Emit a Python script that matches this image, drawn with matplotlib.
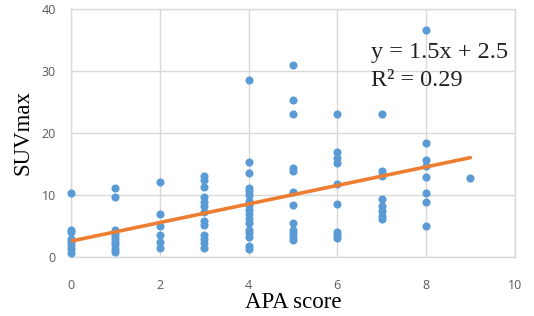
import matplotlib
matplotlib.use("Agg")
import matplotlib.pyplot as plt
import numpy as np

# APA score groups and SUVmax values
apa_scores = [0, 1, 2, 3, 4, 5, 6, 7, 8, 9]
suv_0 = [10.3, 4.3, 3.9, 2.8, 2.3, 1.8, 1.2, 0.6]
suv_1 = [11.1, 9.6, 4.3, 3.8, 3.3, 2.8, 2.3, 1.8, 1.3, 0.8]
suv_2 = [12.0, 6.9, 4.9, 3.5, 2.4, 1.4]
suv_3 = [13.0, 12.4, 11.3, 9.6, 8.8, 8.1, 7.2, 5.7, 5.1, 3.5, 2.8, 2.2, 1.4]
suv_4 = [28.6, 15.3, 13.5, 11.1, 10.6, 10.0, 9.0, 8.3, 7.5, 6.9, 6.0, 5.4, 4.3, 3.8, 3.2, 1.7, 1.3]
suv_5 = [31.0, 25.3, 23.0, 14.3, 13.9, 10.5, 8.4, 5.5, 4.3, 3.8, 3.2, 2.7]
suv_6 = [23.0, 16.9, 16.0, 15.1, 11.8, 8.5, 4.0, 3.5, 3.0]
suv_7 = [23.0, 13.8, 13.0, 9.3, 8.1, 7.3, 6.6, 6.0]
suv_8 = [36.7, 18.3, 15.6, 14.7, 12.9, 10.3, 8.8, 5.0]
suv_9 = [12.7]
suv_groups = [suv_0, suv_1, suv_2, suv_3, suv_4, suv_5, suv_6, suv_7, suv_8, suv_9]

slope = 1.5
intercept = 2.5
r_squared = 0.29

x_ticks = [0, 2, 4, 6, 8, 10]
y_ticks = [0, 10, 20, 30, 40]

xs = np.concatenate([[a] * len(g) for a, g in zip(apa_scores, suv_groups)])
ys = np.concatenate(suv_groups)

fig = plt.figure(figsize=(5.34, 3.16), dpi=100)
ax = fig.add_axes([0.133, 0.188, 0.831, 0.783])

grid_col = "#d9d9d9"
ax.set_xlim(0, 10)
ax.set_ylim(0, 40)
ax.set_xticks(x_ticks)
ax.set_yticks(y_ticks)
ax.grid(True, color=grid_col, linewidth=1.0)
ax.set_axisbelow(True)
for s in ax.spines.values():
    s.set_color(grid_col)
    s.set_linewidth(1.0)
ax.tick_params(axis="x", length=0, colors="#595959", labelsize=9, pad=16)
ax.tick_params(axis="y", length=0, colors="#595959", labelsize=9, pad=11)
for lab in ax.get_xticklabels() + ax.get_yticklabels():
    lab.set_family("Open Sans")

ax.scatter(xs, ys, s=34, color="#5B9BD5", zorder=3, clip_on=False, linewidths=0)
lx = np.array([min(apa_scores), max(apa_scores)])
ax.plot(lx, slope * lx + intercept, color="#ED7D31", linewidth=2.6, zorder=4,
        solid_capstyle="round")

ax.text(0.677, 0.823, f"y = {slope}x + {intercept}", transform=ax.transAxes,
        family="Liberation Serif", fontsize=17.5, color="#222222", va="center", ha="left")
ax.text(0.677, 0.712, f"R² = {r_squared}", transform=ax.transAxes,
        family="Liberation Serif", fontsize=17.5, color="#222222", va="center", ha="left")

ax.set_xlabel("APA score", family="Liberation Serif", fontsize=16.5, labelpad=0)
ax.set_ylabel("SUVmax", family="Liberation Serif", fontsize=16.5, labelpad=6)

fig.savefig("out.png", dpi=100)
